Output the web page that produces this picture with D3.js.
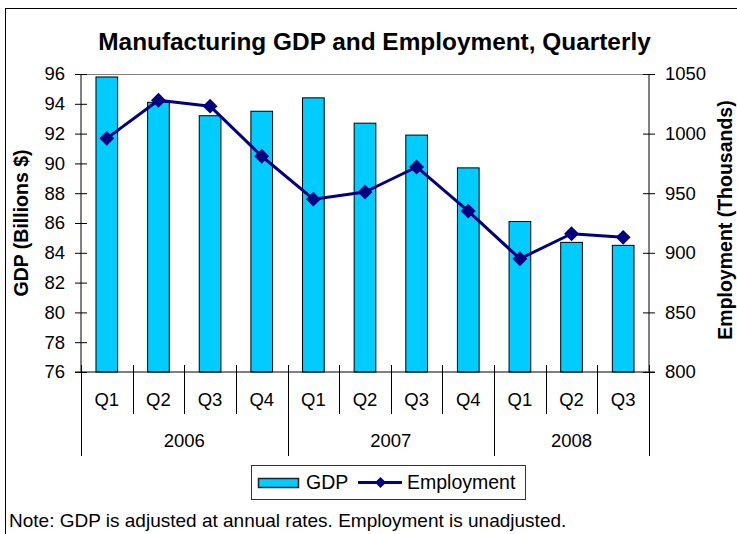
<!DOCTYPE html>
<html>
<head>
<meta charset="utf-8">
<script src="https://cdn.jsdelivr.net/npm/d3@7"></script>
<style>
  html, body { margin: 0; padding: 0; background: #fff; }
  svg { display: block; font-family: "Liberation Sans", Arial, sans-serif; }
</style>
</head>
<body>
<svg id="chart" width="737" height="534"></svg>
<script>
// Quarterly manufacturing GDP (billions $) and employment (thousands)
const years = ["2006", "2007", "2008"];
const quarters = ["Q1", "Q2", "Q3", "Q4", "Q1", "Q2", "Q3", "Q4", "Q1", "Q2", "Q3"];
const quarterYear = ["2006", "2006", "2006", "2006", "2007", "2007", "2007", "2007", "2008", "2008", "2008"];
const gdp = [95.8, 94.1, 93.2, 93.5, 94.4, 92.7, 91.9, 89.7, 86.1, 84.7, 84.5];
const employment = [996, 1028, 1023, 981, 945, 951, 972, 935, 895, 916, 913];
const gdpTicks = [76, 78, 80, 82, 84, 86, 88, 90, 92, 94, 96];
const empTicks = [800, 850, 900, 950, 1000, 1050];

const svg = d3.select("#chart");
const plotL = 81, plotR = 649, plotT = 74, plotB = 372;
const navy = "#000080", cyan = "#00CCFF";

const keys = quarters.map((q, i) => i);
const x = d3.scaleBand().domain(keys).range([plotL, plotR]).paddingInner(0).paddingOuter(0);
const yG = d3.scaleLinear().domain([76, 96]).range([plotB, plotT]);
const yE = d3.scaleLinear().domain([800, 1050]).range([plotB, plotT]);

// outer frame
svg.append("rect").attr("x", 5.5).attr("y", 8.5).attr("width", 760).attr("height", 560)
  .attr("fill", "none").attr("stroke", "#000").attr("stroke-width", 1);

// title
svg.append("text").attr("x", 374.5).attr("y", 50).attr("text-anchor", "middle")
  .attr("font-size", 24.4).attr("font-weight", "bold").text("Manufacturing GDP and Employment, Quarterly");

// plot area top border
svg.append("line").attr("x1", plotL).attr("x2", plotR).attr("y1", plotT + 0.5).attr("y2", plotT + 0.5)
  .attr("stroke", "#808080").attr("stroke-width", 1);

// bars
const bw = x.bandwidth() * 0.42;
svg.append("g").selectAll("rect").data(keys).join("rect")
  .attr("x", i => x(i) + (x.bandwidth() - bw) / 2)
  .attr("y", i => yG(gdp[i]))
  .attr("width", bw)
  .attr("height", i => yG(76) - yG(gdp[i]))
  .attr("fill", cyan).attr("stroke", "#000").attr("stroke-width", 1);

// left axis
const axL = svg.append("g").attr("transform", `translate(${plotL},0)`)
  .call(d3.axisLeft(yG).tickValues(gdpTicks).tickSize(6).tickPadding(10).tickFormat(d3.format("d")));
axL.selectAll(".tick line").attr("x2", -6).attr("x1", 6);
// right axis
const axR = svg.append("g").attr("transform", `translate(${plotR},0)`)
  .call(d3.axisRight(yE).tickValues(empTicks).tickSize(6).tickPadding(10).tickFormat(d3.format("d")));
axR.selectAll(".tick line").attr("x1", -6).attr("x2", 6);
[axL, axR].forEach(a => {
  a.select(".domain").attr("stroke", "#000").attr("d", `M0,${plotT}V${plotB}`);
  a.selectAll(".tick line").attr("stroke", "#000");
  a.selectAll(".tick text").attr("font-size", 18.5).attr("fill", "#000")
    .attr("font-family", "'Liberation Sans', Arial, sans-serif");
});

// category axis with two-level labels
const cat = svg.append("g");
cat.append("line").attr("x1", plotL - 6).attr("x2", plotR + 6).attr("y1", plotB).attr("y2", plotB)
  .attr("stroke", "#000");
const bounds = d3.range(quarters.length + 1);
const yearStarts = new Set([0, quarters.length]);
quarterYear.forEach((y, i) => { if (i > 0 && y !== quarterYear[i - 1]) yearStarts.add(i); });
cat.selectAll("line.sep").data(bounds).join("line").attr("class", "sep")
  .attr("x1", i => Math.round(plotL + i * x.step()) + 0.5)
  .attr("x2", i => Math.round(plotL + i * x.step()) + 0.5)
  .attr("y1", plotB - 7)
  .attr("y2", i => yearStarts.has(i) ? 456 : 414)
  .attr("stroke", "#000");
cat.selectAll("text.q").data(keys).join("text").attr("class", "q")
  .attr("x", i => x(i) + x.bandwidth() / 2).attr("y", 406)
  .attr("text-anchor", "middle").attr("font-size", 18.5).text(i => quarters[i]);
cat.selectAll("text.yr").data(years).join("text").attr("class", "yr")
  .attr("x", yr => {
    const idx = keys.filter(i => quarterYear[i] === yr);
    return (x(idx[0]) + x(idx[idx.length - 1]) + x.bandwidth()) / 2;
  })
  .attr("y", 447).attr("text-anchor", "middle").attr("font-size", 18.5).text(d => d);

// employment line
const line = d3.line().x(i => x(i) + x.bandwidth() / 2).y(i => yE(employment[i]));
svg.append("path").datum(keys).attr("d", line).attr("fill", "none")
  .attr("stroke", navy).attr("stroke-width", 3).attr("stroke-linejoin", "round");
const diamond = d3.symbol().type(d3.symbolSquare).size(110);
svg.append("g").selectAll("path").data(keys).join("path")
  .attr("d", diamond)
  .attr("transform", i => `translate(${x(i) + x.bandwidth() / 2},${yE(employment[i])}) rotate(45)`)
  .attr("fill", navy);

// axis titles
svg.append("text").attr("transform", `translate(28,${(plotT + plotB) / 2}) rotate(-90)`)
  .attr("text-anchor", "middle").attr("font-size", 19.5).attr("font-weight", "bold").text("GDP (Billions $)");
svg.append("text").attr("transform", `translate(732,${(plotT + plotB) / 2 - 3}) rotate(-90)`)
  .attr("text-anchor", "middle").attr("font-size", 19.5).attr("font-weight", "bold").text("Employment (Thousands)");

// legend
const lg = svg.append("g");
lg.append("rect").attr("x", 251.5).attr("y", 465.5).attr("width", 274).attr("height", 34)
  .attr("fill", "#fff").attr("stroke", "#333");
lg.append("rect").attr("x", 258.5).attr("y", 478.5).attr("width", 40).attr("height", 9)
  .attr("fill", cyan).attr("stroke", "#222").attr("stroke-width", 1.5);
lg.append("text").attr("x", 306).attr("y", 488.5).attr("font-size", 19.5).text("GDP");
lg.append("line").attr("x1", 358).attr("x2", 402).attr("y1", 482.5).attr("y2", 482.5)
  .attr("stroke", navy).attr("stroke-width", 3);
lg.append("path").attr("d", d3.symbol().type(d3.symbolSquare).size(60))
  .attr("transform", "translate(380.5,482.5) rotate(45)").attr("fill", navy);
lg.append("text").attr("x", 407).attr("y", 488.5).attr("font-size", 19.5).text("Employment");

// footnote
svg.append("text").attr("x", 9).attr("y", 527).attr("font-size", 19)
  .text("Note: GDP is adjusted at annual rates. Employment is unadjusted.");
</script>
</body>
</html>
